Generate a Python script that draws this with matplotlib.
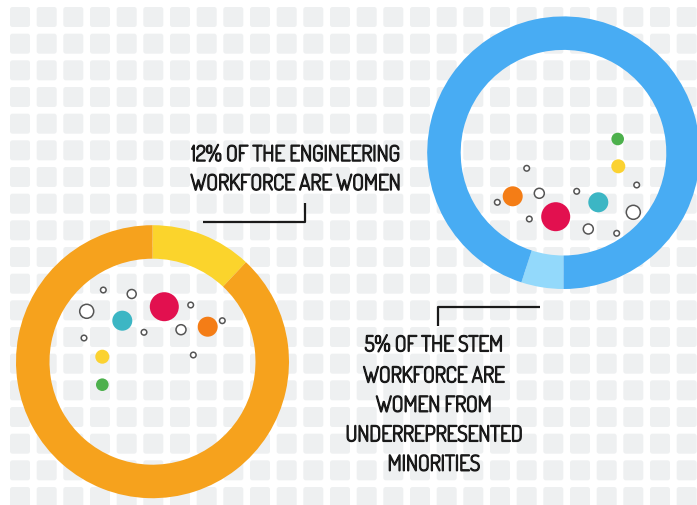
import matplotlib
matplotlib.use("Agg")
import matplotlib.pyplot as plt
import matplotlib.patheffects as pe
from matplotlib.patches import FancyBboxPatch, Circle

# values shown by the two rings (percent)
engineering_labels = ["Women", "Other"]
engineering_values = [12, 88]
stem_labels = ["Women from underrepresented minorities", "Other"]
stem_values = [5, 95]

text_engineering = ["12% OF THE ENGINEERING", "WORKFORCE ARE WOMEN"]
text_stem = ["5% OF THE STEM", "WORKFORCE ARE", "WOMEN FROM",
             "UNDERREPRESENTED", "MINORITIES"]

W, H = 697, 506
fig = plt.figure(figsize=(W / 100, H / 100), dpi=100)
ax = fig.add_axes([0, 0, 1, 1])
fig.patch.set_facecolor("white")

# background tiles
pitch = 80 / 3
for r in range(19):
    for c in range(26):
        x = 10 + c * pitch
        y = 8 + r * pitch
        ax.add_patch(FancyBboxPatch((x + 2.5, y + 2.5), 15, 15,
                                    boxstyle="round,pad=2.5",
                                    fc="#eef0f1", ec="none", zorder=0))

# rings (y axis points down, so counterclockwise in data = clockwise on screen)
ax.pie(engineering_values, colors=["#fbd42c", "#f6a21d"], startangle=-90,
       center=(152.5, 362.7), radius=136.5, frame=True,
       wedgeprops=dict(width=33.5, linewidth=0))
ax.pie(stem_values, colors=["#93d9fb", "#48acf3"], startangle=90,
       center=(563.5, 153.7), radius=136.3, frame=True,
       wedgeprops=dict(width=33.5, linewidth=0))

# confetti dots: (x, y, radius, colour or None for hollow)
dots_left = [
    (103.3, 291, 2.8, None), (131.7, 295, 4.5, None), (86.7, 312.3, 7, None),
    (122.3, 321.7, 10, "#3cb6c4"), (164.3, 307.7, 14.5, "#e2104f"),
    (190.7, 306, 2.8, None), (144, 333.3, 2.8, None), (181, 330.7, 5, None),
    (207.7, 327.7, 10, "#f47d16"), (222.3, 321.7, 2.8, None),
    (84, 339, 2.8, None), (193.3, 356, 2.8, None),
    (102.3, 357.7, 7, "#fbd231"), (102.3, 385.7, 6.3, "#4cb04c"),
]
dots_right = [
    (617.7, 140, 6.3, "#4cb04c"), (618.3, 167.3, 7, "#fbd231"),
    (526.7, 169.3, 2.8, None), (636.7, 186, 2.8, None),
    (512.7, 197.3, 10, "#f47d16"), (539.3, 194.3, 5, None),
    (576.7, 192.3, 2.8, None), (497.3, 203.3, 2.8, None),
    (598.3, 203.3, 10, "#3cb6c4"), (555.7, 217.7, 14.5, "#e2104f"),
    (529.3, 220, 2.8, None), (633.3, 213.3, 7, None),
    (588.3, 230, 5, None), (616.7, 234.3, 2.8, None),
]
for x, y, rad, col in dots_left + dots_right:
    if col is None:
        ax.add_patch(Circle((x, y), rad, fc="white", ec="#555555", lw=1.1, zorder=3))
    else:
        ax.add_patch(Circle((x, y), rad, fc=col, ec="none", zorder=3))

# connector lines
ax.plot([203, 304.5, 304.5], [223, 223, 204], color="#1a1a1a", lw=1.6,
        solid_capstyle="butt", zorder=4)
ax.plot([438, 438, 540], [327, 307.5, 307.5], color="#1a1a1a", lw=1.6,
        solid_capstyle="butt", zorder=4)

# Dosis only ships as a thin variable font here, so thicken it with a stroke
font = dict(family=["Dosis", "DejaVu Sans"], fontsize=15.5,
            color="#1a1a1a", ha="center", va="baseline", zorder=5,
            path_effects=[pe.withStroke(linewidth=1.1, foreground="#1a1a1a")])
for line, yb in zip(text_engineering, [162, 191]):
    ax.text(295, yb, line, **font)
for line, yb in zip(text_stem, [352.3, 383.3, 412.7, 442.3, 471.7]):
    ax.text(433.5, yb, line, **font)

ax.set_xlim(0, W)
ax.set_ylim(H, 0)
ax.set_aspect("equal")
ax.axis("off")

fig.savefig("out.png", dpi=100)
